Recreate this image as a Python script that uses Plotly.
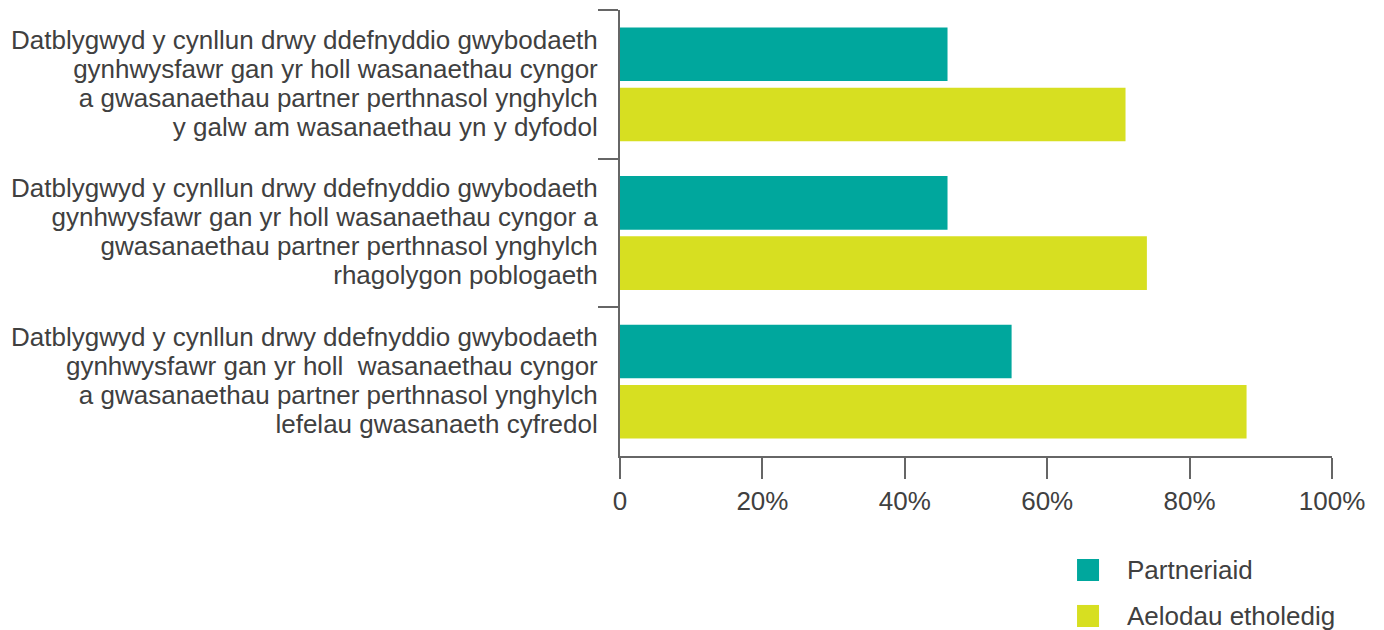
import plotly.graph_objects as go

# Categories top-to-bottom, as in the source chart
categories = [
    'Datblygwyd y cynllun drwy ddefnyddio gwybodaeth<br>gynhwysfawr gan yr holl wasanaethau cyngor<br>'
    'a gwasanaethau partner perthnasol ynghylch<br>y galw am wasanaethau yn y dyfodol',
    'Datblygwyd y cynllun drwy ddefnyddio gwybodaeth<br>gynhwysfawr gan yr holl wasanaethau cyngor a<br>'
    'gwasanaethau partner perthnasol ynghylch<br>rhagolygon poblogaeth',
    'Datblygwyd y cynllun drwy ddefnyddio gwybodaeth<br>gynhwysfawr gan yr holl  wasanaethau cyngor<br>'
    'a gwasanaethau partner perthnasol ynghylch<br>lefelau gwasanaeth cyfredol',
]
series_names = ['Partneriaid', 'Aelodau etholedig']
partneriaid = [46, 46, 55]
aelodau = [71, 74, 88]
x_ticks = [0, 20, 40, 60, 80, 100]
x_labels = ['0', '20%', '40%', '60%', '80%', '100%']

TEAL = '#00A79D'
YELLOW = '#D7DF21'
TXT = '#404040'
AX = '#666666'
FONT = 'Liberation Sans, Arial, sans-serif'


def big(label):
    # larger glyphs, tighter line spacing (spacing follows the base tick font)
    return '<br>'.join(f'<span style="font-size:26px">{ln}</span>'
                       for ln in label.split('<br>'))


ylabels = [big(c) for c in categories]

fig = go.Figure()
for name, vals, clr in [(series_names[0], partneriaid, TEAL),
                        (series_names[1], aelodau, YELLOW)]:
    fig.add_trace(go.Bar(
        y=ylabels, x=vals, name=name, orientation='h',
        marker=dict(color=clr, line=dict(width=0)),
        showlegend=False,
    ))

# legend drawn by hand: big squares like the original
legend_rows = [(-0.2556, series_names[0], TEAL), (-0.3587, series_names[1], YELLOW)]
for yc, name, clr in legend_rows:
    fig.add_shape(type='rect', xref='paper', yref='paper',
                  x0=0.6419, x1=0.6728, y0=yc + 0.0247, y1=yc - 0.0247,
                  fillcolor=clr, line=dict(width=0))
    fig.add_annotation(xref='paper', yref='paper', x=0.709, y=yc,
                       text=name, showarrow=False, xanchor='left',
                       yanchor='middle',
                       font=dict(size=26, color=TXT, family=FONT))

fig.update_layout(
    width=1384, height=630,
    margin=dict(l=620, r=52, t=10, b=174),
    paper_bgcolor='white', plot_bgcolor='white',
    font=dict(family=FONT, size=26, color=TXT),
    barmode='group', bargap=0.19, bargroupgap=0.11,
    showlegend=False,
)
fig.update_xaxes(
    range=[0, 100], tickvals=x_ticks, ticktext=x_labels,
    showgrid=False, zeroline=False,
    showline=True, linecolor=AX, linewidth=1.5,
    ticks='outside', ticklen=21, tickwidth=1.5, tickcolor=AX,
    tickfont=dict(size=26, color=TXT, family=FONT),
)
fig.update_yaxes(
    autorange='reversed', automargin=False,
    showgrid=False, zeroline=False,
    showline=True, linecolor=AX, linewidth=1.5,
    ticks='outside', ticklen=20, tickwidth=1.5, tickcolor=AX,
    tickson='boundaries', ticklabelstandoff=16,
    tickfont=dict(size=22.3, color=TXT, family=FONT),
)

fig.write_html('out.html', config={'displayModeBar': False},
               post_script="document.body.style.margin='0';")
